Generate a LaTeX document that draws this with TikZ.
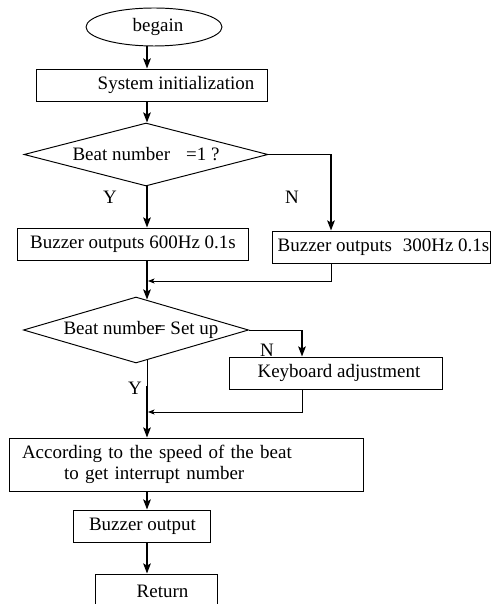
\documentclass[tikz,border=0pt]{standalone}
\usepackage{fontspec}
\setmainfont{Liberation Serif}
\usetikzlibrary{shapes.geometric,arrows.meta}

\begin{document}
\begin{tikzpicture}[x=0.02cm, y=-0.02cm,
    font=\fontsize{10.8}{12}\selectfont,
    >={Stealth[length=0.2cm,width=0.15cm,inset=0.04cm]},
    proc/.style={draw, rectangle, line width=0.55pt, minimum height=0.64cm, inner sep=0pt},
    test/.style={draw, diamond, line width=0.55pt, aspect=3.5, inner sep=0pt},
    flow/.style={line width=1.5pt, ->},
    link/.style={line width=0.55pt},
    back/.style={line width=0.55pt, -{Stealth[length=0.13cm,width=0.1cm,inset=0.03cm]}}]

        \useasboundingbox (0,0) rectangle (491,604);

        % start and init
        \node[draw, ellipse, line width=0.55pt, minimum width=2.72cm, minimum height=0.76cm, inner sep=0pt] (begin) at (154,27) {\hspace{0.16cm}begain};
        \node[proc, minimum width=4.64cm] (init) at (152,85) {\hspace{0.96cm}System initialization};

        % main column
        \coordinate (col) at (147,0);

        % first test
        \node[test, minimum width=4.88cm, minimum height=1.26cm] (beat) at (146,154.5) {Beat number\hspace{0.32cm}=1 ?};
        \node[proc, minimum width=4.64cm] (fast) at (133,244) {Buzzer outputs 600Hz 0.1s};
        \node[proc, minimum width=4.36cm] (slow) at (381,247) {\hspace{0.1cm}Buzzer outputs\hspace{0.12cm} 300Hz 0.1s};

        \node (yes1) at (110,197) {Y};
        \node (no1) at (292,197) {N};

        % second test
        \node[test, minimum width=4.24cm, minimum height=1.32cm] (setup) at (136,330) {\hspace{0.2cm}Beat number\hspace{-0.12cm}= Set up};
        \node[proc, minimum width=4.26cm] (key) at (335.5,373) {\hspace{0.14cm}Keyboard adjustment};

        \node (no2) at (267,350) {N};
        \node (yes2) at (135,388) {Y};

        % rest of the flow
        \node[proc, minimum width=7.1cm, minimum height=1.06cm, text width=6.58cm, align=left, inner xsep=0.26cm] (speed) at (186.5,464.5)
            {According to the speed of the beat\\ \hspace*{0.84cm}to get interrupt number};
        \node[proc, minimum width=2.74cm] (out) at (141.5,526) {\hspace{0.04cm}Buzzer output};
        \node[proc, minimum width=2.44cm, minimum height=0.68cm] (ret) at (156,591) {\hspace{0.26cm}Return};

        % connectors
        \draw[flow] (begin.south -| col) -- (init.north -| col);
        \draw[flow] (init.south -| col) -- (beat.north -| col);
        \draw[flow] (beat.south -| col) -- (fast.north -| col);

        \coordinate (nturn) at (331,154.5);
        \draw[link] (beat.east) -- (nturn);
        \draw[flow] (nturn) -- (nturn |- slow.north);

        \coordinate (merge1) at (148,281);
        \draw[back] (slow.south -| nturn) |- (merge1);
        \draw[flow] (fast.south -| col) -- ([yshift=-0.06cm]setup.north -| col);

        \coordinate (nturn2) at (302,330);
        \draw[link] (setup.east) -- (nturn2);
        \draw[flow] (nturn2) -- (nturn2 |- key.north);

        \coordinate (ystart) at (147,386);
        \draw[link] ([yshift=0.07cm]setup.south -| col) -- (ystart);
        \draw[flow] (ystart) -- (speed.north -| col);

        \coordinate (merge2) at (148,412);
        \draw[back] (key.south -| nturn2) |- (merge2);

        \draw[flow] (speed.south -| col) -- (out.north -| col);
        \draw[flow] (out.south -| col) -- (ret.north -| col);

\end{tikzpicture}
\end{document}
